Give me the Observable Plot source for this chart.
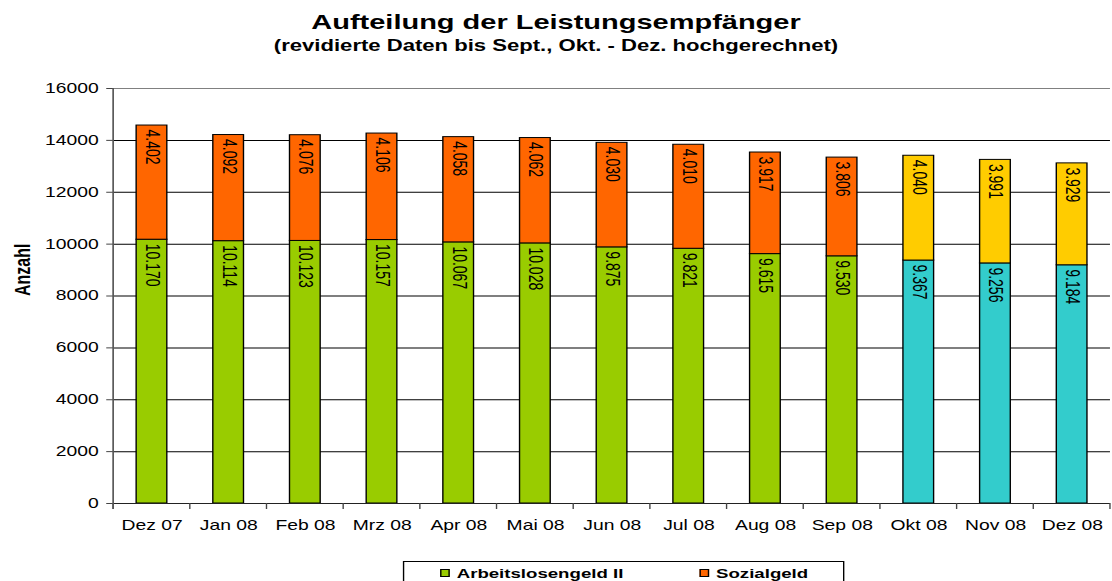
<!DOCTYPE html>
<html><head><meta charset="utf-8">
<script src="https://cdn.jsdelivr.net/npm/d3@7"></script>
<script src="https://cdn.jsdelivr.net/npm/@observablehq/plot@0.6"></script>
<style>
html,body{margin:0;padding:0;background:#fff;overflow:hidden;}
#wrap{position:relative;width:806px;height:581px;transform:scaleX(1.3797);transform-origin:0 0;font-family:"Liberation Sans",Arial,sans-serif;color:#000;}
#title{position:absolute;top:11px;left:0;width:806px;text-align:center;font-weight:bold;font-size:21px;line-height:21px;}
#subtitle{position:absolute;top:38px;left:0;width:806px;text-align:center;font-weight:bold;font-size:16px;line-height:16px;}
#chart{position:absolute;top:60px;left:0;}
#legend{position:absolute;left:292px;top:561px;width:320px;height:40px;border:1px solid #000;box-sizing:border-box;}
.sw{position:absolute;width:7px;height:8px;border:1px solid #000;box-sizing:border-box;}
.lt{position:absolute;font-weight:bold;font-size:13.5px;line-height:14px;white-space:nowrap;}
</style></head><body>
<div id="wrap">
<div id="title"></div><div id="subtitle"></div><div id="chart"></div><div id="legend"></div>
</div>
<script>
const titleText = "Aufteilung der Leistungsempfänger";
const subtitleText = "(revidierte Daten bis Sept., Okt. - Dez. hochgerechnet)";
const yLabel = "Anzahl";
const months = ["Dez 07","Jan 08","Feb 08","Mrz 08","Apr 08","Mai 08","Jun 08","Jul 08","Aug 08","Sep 08","Okt 08","Nov 08","Dez 08"];
const alg2 = [10170,10114,10123,10157,10067,10028,9875,9821,9615,9530,9367,9256,9184];
const sozialgeld = [4402,4092,4076,4106,4058,4062,4030,4010,3917,3806,4040,3991,3929];
const projected = [false,false,false,false,false,false,false,false,false,false,true,true,true];
const seriesNames = ["Arbeitslosengeld II","Sozialgeld"];
const seriesColors = ["#99CC00","#FF6600"];
const projectedColors = ["#33CCCC","#FFCC00"];
const projSuffix = " (hochgerechnet)";
const yTicks = [0,2000,4000,6000,8000,10000,12000,14000,16000];

document.getElementById("title").textContent = titleText;
document.getElementById("subtitle").textContent = subtitleText;

const seriesValues = [alg2, sozialgeld];
const rows = months.flatMap((m, i) => seriesNames.map((s, k) => ({
  month: m, serie: s, key: projected[i] ? s + projSuffix : s, value: seriesValues[k][i]
})));
const colorDomain = [...seriesNames, ...seriesNames.map(s => s + projSuffix)];
const colorRange = [...seriesColors, ...projectedColors];
const fmt = v => d3.format(",")(v).replace(/,/g, ".");

function boundaryTicks(index, scales, values, dimensions) {
  const x = scales.x;
  const bw = x.bandwidth();
  const step = x.step ? x.step() : bw / 0.4;
  const y0 = dimensions.height - dimensions.marginBottom;
  const g = d3.create("svg:g").attr("stroke", "#444").attr("fill", "none");
  const xs = months.map(m => x(m) - (step - bw) / 2);
  xs.push(xs[xs.length - 1] + step);
  for (const xb of xs) g.append("line").attr("x1", xb).attr("x2", xb).attr("y1", y0).attr("y2", y0 + 6);
  g.append("line").attr("x1", dimensions.marginLeft).attr("x2", dimensions.marginLeft)
    .attr("y1", dimensions.marginTop).attr("y2", y0 + 6).attr("stroke", "#555").attr("stroke-width", 1.2);
  return g.node();
}

const chart = Plot.plot({
  width: 806, height: 490,
  marginLeft: 82, marginRight: 1.5, marginTop: 28, marginBottom: 47,
  style: {fontFamily: '"Liberation Sans", Arial, sans-serif', fontSize: "14px", color: "#000", background: "transparent", overflow: "visible"},
  x: {domain: months, paddingInner: 0.6, paddingOuter: 0.3, round: false},
  y: {domain: [0, 16000]},
  color: {domain: colorDomain, range: colorRange},
  marks: [
    Plot.gridY(yTicks.filter(t => t > 0 && t < 16000), {stroke: "#000", strokeOpacity: 1}),
    Plot.ruleY([16000], {stroke: "#808080"}),
    Plot.barY(rows, {x: "month", y: "value", z: "serie", fill: "key", stroke: "#000", strokeWidth: 1}),
    Plot.ruleY([0], {stroke: "#222"}),
    Plot.text(rows, Plot.stackY2({x: "month", y: "value", z: "serie", text: d => fmt(d.value), rotate: 90, textAnchor: "start", dy: 4, fontSize: 14, fill: "#000"})),
    Plot.axisY({ticks: yTicks, tickSize: 5, tickPadding: 6, tickFormat: d => String(d), fontSize: 14, label: null, stroke: "#444"}),
    Plot.axisX({tickSize: 0, tickPadding: 17, fontSize: 14, label: null}),
    Plot.text([yLabel], {text: d => d, frameAnchor: "left", dx: -66, rotate: -90, fontWeight: "bold", fontSize: 16, fill: "#000"}),
    boundaryTicks
  ]
});
document.getElementById("chart").appendChild(chart);

const legend = document.getElementById("legend");
const legendLeft = [26, 214];
seriesNames.forEach((s, k) => {
  const sw = document.createElement("div");
  sw.className = "sw";
  sw.style.left = legendLeft[k] + "px";
  sw.style.top = "7px";
  sw.style.background = seriesColors[k];
  legend.appendChild(sw);
  const t = document.createElement("div");
  t.className = "lt";
  t.style.left = (legendLeft[k] + 12) + "px";
  t.style.top = "4.5px";
  t.textContent = s;
  legend.appendChild(t);
});
</script>
</body></html>
